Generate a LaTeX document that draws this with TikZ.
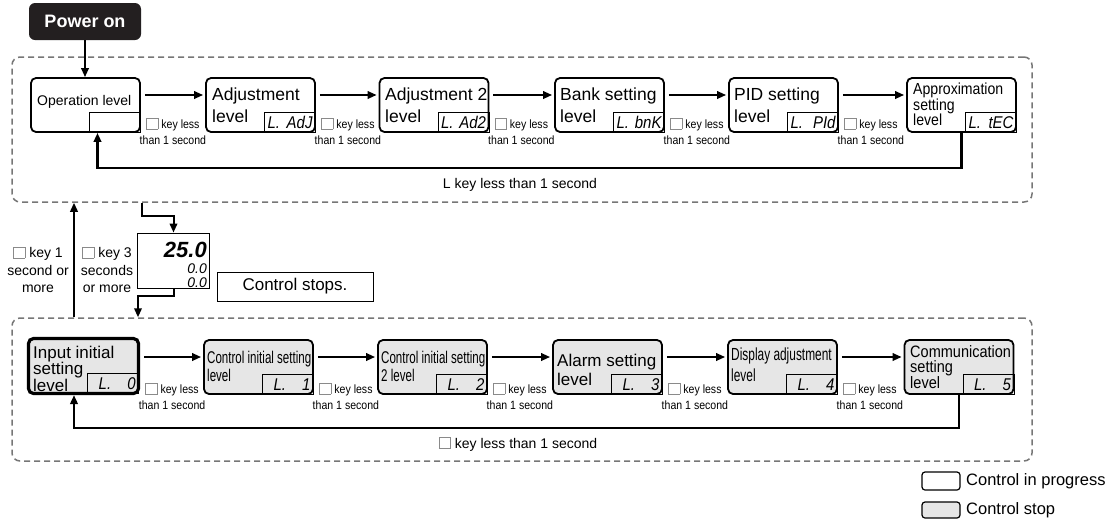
\documentclass[tikz,border=0pt]{standalone}
\usepackage{fontspec}
\setmainfont{Liberation Sans}
\newfontfamily\narrowfont[FakeStretch=0.68]{Liberation Sans}
\newfontfamily\semifont[FakeStretch=0.88]{Liberation Sans}
\usetikzlibrary{arrows.meta}
\definecolor{stopgray}{HTML}{E6E6E6}
\definecolor{dashgray}{HTML}{767676}
\definecolor{powerblack}{HTML}{231F20}
\definecolor{kgray}{HTML}{8A8A8A}
\newcommand\fsz[2]{\fontsize{#1}{#2}\selectfont}
\newcommand\kbox{{\color{kgray}\setlength\fboxsep{0pt}\setlength\fboxrule{0.6pt}\fbox{\rule{0pt}{10.4pt}\hspace{11pt}}}}
\newcommand\segtxt[2]{\makebox[45pt]{#1\hfill#2}}
\begin{document}
\begin{tikzpicture}[x=1pt,y=-1pt,
 lvl/.style={draw, line width=1.8pt, rounded corners=5pt, minimum width=109pt, minimum height=54pt, inner sep=0pt, fill=white},
 stoplvl/.style={lvl, fill=stopgray},
 segrect/.style={draw, line width=0.8pt, minimum width=51pt, minimum height=20pt, inner sep=0pt, font=\semifont\itshape\fsz{17}{17}},
 region/.style={draw=dashgray, dash pattern=on 6pt off 4pt, line width=1.5pt, rounded corners=8pt, minimum width=1020pt, inner sep=0pt},
 arr/.style={line width=2pt, -{Triangle[length=9pt,width=7.5pt]}},
 fb/.style={line width=2.3pt, -{Triangle[length=9pt,width=7.5pt]}},
 txt/.style={inner sep=0pt, align=left, anchor=north west},
 big/.style={txt, font=\fsz{17.5}{22}},
 keylbl/.style={inner sep=0pt, align=center, anchor=north, font=\semifont\fsz{12}{15.5}},
 midlbl/.style={inner sep=0pt, align=center, anchor=north, font=\fsz{14}{17.5}},
 legbox/.style={draw, line width=1.2pt, rounded corners=3pt, minimum width=38pt, inner sep=0pt},
]
\useasboundingbox (0,0) rectangle (1118,523);

% regions
\node[region, minimum height=145pt] (topreg) at (522,129.5) {};
\node[region, minimum height=143pt] (botreg) at (522,389.5) {};

% power on
\node[fill=powerblack, text=white, rounded corners=6pt, minimum width=112pt, minimum height=37pt, inner sep=0pt, font=\bfseries\fsz{18}{18}] (pwr) at (85,21.5) {Power on};

% top row boxes
\node[lvl] (op) at (85.5,105) {};
\node[lvl] (adj) at (260.5,105) {};
\node[lvl] (adj2) at (434,105) {};
\node[lvl] (bank) at (609.5,105) {};
\node[lvl] (pid) at (783.5,105) {};
\node[lvl] (apx) at (961.5,105) {};

\node[segrect, anchor=south east] (opd) at (op.south east) {};
\node[segrect, anchor=south east] (adjd) at (adj.south east) {\segtxt{L.}{AdJ}};
\node[segrect, anchor=south east] (adj2d) at (adj2.south east) {\segtxt{L.}{Ad2}};
\node[segrect, anchor=south east] (bankd) at (bank.south east) {\segtxt{L.}{bnK}};
\node[segrect, anchor=south east] (pidd) at (pid.south east) {\segtxt{L.}{PId}};
\node[segrect, anchor=south east] (apxd) at (apx.south east) {\segtxt{L.}{tEC}};

\node[inner sep=0pt, anchor=base west, font=\fsz{14}{17}] (opt) at (37,105) {Operation level};
\node[big] (adjt) at (212,88) {Adjustment\\level};
\node[big] (adj2t) at (385,88) {Adjustment 2\\level};
\node[big] (bankt) at (560,88) {Bank setting\\level};
\node[big] (pidt) at (734,88) {PID setting\\level};
\node[txt, font=\semifont\fsz{16}{15.5}] (apxt) at (913,83) {Approximation\\setting\\level};

% top row arrows
\draw[arr] (pwr.south) -- (pwr.south |- op.north);
\draw[arr] ([shift={(4,-10)}]op.east) -- ([shift={(-2,-10)}]adj.west);
\draw[arr] ([shift={(4,-10)}]adj.east) -- ([shift={(-2,-10)}]adj2.west);
\draw[arr] ([shift={(4,-10)}]adj2.east) -- ([shift={(-2,-10)}]bank.west);
\draw[arr] ([shift={(4,-10)}]bank.east) -- ([shift={(-2,-10)}]pid.west);
\draw[arr] ([shift={(4,-10)}]pid.east) -- ([shift={(-2,-10)}]apx.west);

\node[keylbl] (k1) at ([shift={(32,12.5)}]op.east) {\kbox{} key less\\than 1 second};
\node[keylbl] (k2) at ([shift={(32,12.5)}]adj.east) {\kbox{} key less\\than 1 second};
\node[keylbl] (k3) at ([shift={(32,12.5)}]adj2.east) {\kbox{} key less\\than 1 second};
\node[keylbl] (k4) at ([shift={(32,12.5)}]bank.east) {\kbox{} key less\\than 1 second};
\node[keylbl] (k5) at ([shift={(32,12.5)}]pid.east) {\kbox{} key less\\than 1 second};

\draw[fb] (apx.south) -- ++(0,35) -| ([xshift=12pt]op.south);
\node[inner sep=0pt, anchor=base, font=\fsz{14}{17}] (fbt) at (520,188) {L key less than 1 second};

% middle
\coordinate (upx) at (74,0);
\coordinate (dinx) at (142,0);
\coordinate (doutx) at (138,0);
\draw[arr] (botreg.north -| upx) -- (topreg.south -| upx);
\node[midlbl] (m1) at (38,246.4) {\kbox{} key 1\\second or\\more};
\node[midlbl] (m2) at (107,246.4) {\kbox{} key 3\\seconds\\or more};
\node[draw, line width=0.9pt, minimum width=72pt, minimum height=55pt, inner sep=0pt] (dsp) at (173.5,260.5) {};
\node[inner sep=0pt, anchor=base east, font=\bfseries\itshape\fsz{22}{22}] (d1) at (207,257) {25.0};
\node[inner sep=0pt, anchor=base east, font=\itshape\fsz{14}{14}] (d2) at (207,273) {0.0};
\node[inner sep=0pt, anchor=base east, font=\itshape\fsz{14}{14}] (d3) at (207,287) {0.0};
\draw[arr] (topreg.south -| dinx) -- ++(0,13) -| (dsp.north);
\draw[arr] (dsp.south) -- ++(0,8) -| (botreg.north -| doutx);
\node[draw, line width=0.9pt, minimum width=156pt, minimum height=29pt, inner sep=0pt, font=\fsz{17}{17}] (cs) at (295,286.5) {Control stops.};

% bottom row boxes
\node[stoplvl, line width=3.2pt, minimum width=110pt, minimum height=55pt] (inp) at (83.5,366) {};
\node[stoplvl] (ctl) at (258.5,367) {};
\node[stoplvl] (ctl2) at (432.5,367) {};
\node[stoplvl] (alm) at (607.5,367) {};
\node[stoplvl] (dsa) at (782.5,367) {};
\node[stoplvl] (com) at (959,367) {};

\node[segrect, anchor=south east] (inpd) at ([shift={(-1,-1)}]inp.south east) {\segtxt{\hspace{8pt}L.}{0}};
\node[segrect, anchor=south east] (ctld) at (ctl.south east) {\segtxt{\hspace{8pt}L.}{1}};
\node[segrect, anchor=south east] (ctl2d) at (ctl2.south east) {\segtxt{\hspace{8pt}L.}{2}};
\node[segrect, anchor=south east] (almd) at (alm.south east) {\segtxt{\hspace{8pt}L.}{3}};
\node[segrect, anchor=south east] (dsad) at (dsa.south east) {\segtxt{\hspace{8pt}L.}{4}};
\node[segrect, anchor=south east] (comd) at (com.south east) {\segtxt{\hspace{8pt}L.}{5}};

\node[txt, font=\fsz{17}{16.5}] (inpt) at (33,345.6) {Input initial\\setting\\level};
\node[txt, font=\narrowfont\fsz{17}{18}] (ctlt) at (207,351) {Control initial setting\\level};
\node[txt, font=\narrowfont\fsz{17}{18}] (ctl2t) at (381,351) {Control initial setting\\2 level};
\node[txt, font=\fsz{17}{19}] (almt) at (557,353.5) {Alarm setting\\level};
\node[txt, font=\narrowfont\fsz{17.5}{21}] (dsat) at (731,348) {Display adjustment\\level};
\node[txt, font=\semifont\fsz{16.5}{15.5}] (comt) at (910,345) {Communication\\setting\\level};

\draw[arr] ([shift={(4,-9)}]inp.east) -- ([shift={(-2,-10)}]ctl.west);
\draw[arr] ([shift={(4,-10)}]ctl.east) -- ([shift={(-2,-10)}]ctl2.west);
\draw[arr] ([shift={(4,-10)}]ctl2.east) -- ([shift={(-2,-10)}]alm.west);
\draw[arr] ([shift={(4,-10)}]alm.east) -- ([shift={(-2,-10)}]dsa.west);
\draw[arr] ([shift={(4,-10)}]dsa.east) -- ([shift={(-2,-10)}]com.west);

\node[keylbl] (b1) at ([shift={(32,15.5)}]ctl.east -| inp.east) {\kbox{} key less\\than 1 second};
\node[keylbl] (b2) at ([shift={(32,15.5)}]ctl.east) {\kbox{} key less\\than 1 second};
\node[keylbl] (b3) at ([shift={(32,15.5)}]ctl2.east) {\kbox{} key less\\than 1 second};
\node[keylbl] (b4) at ([shift={(32,15.5)}]alm.east) {\kbox{} key less\\than 1 second};
\node[keylbl] (b5) at ([shift={(32,15.5)}]dsa.east) {\kbox{} key less\\than 1 second};

\draw[fb] (com.south) -- ++(0,33) -| ([xshift=-9.5pt]inp.south);
\node[inner sep=0pt, anchor=base, font=\fsz{14}{17}] (bfbt) at (518,448) {\kbox{} key less than 1 second};

% legend
\node[legbox, fill=white, minimum height=18pt] (lg1) at (941,481) {};
\node[inner sep=0pt, anchor=base west, font=\fsz{16.5}{17}] (lg1t) at (966,485) {Control in progress};
\node[legbox, fill=stopgray, minimum height=16pt] (lg2) at (941,510) {};
\node[inner sep=0pt, anchor=base west, font=\fsz{16.5}{17}] (lg2t) at (966,514) {Control stop};
\end{tikzpicture}
\end{document}
